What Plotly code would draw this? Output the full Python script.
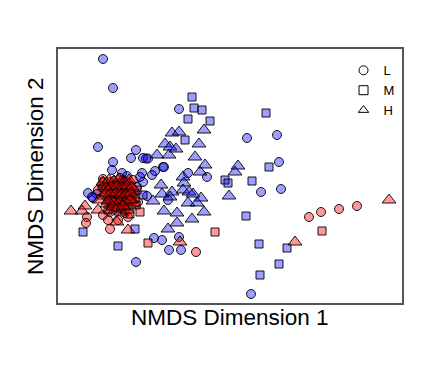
import plotly.graph_objects as go

# NMDS scores (arbitrary units). Group A = blue, group B = red.
# L = circles, M = squares, H = triangles
a_L_x = [103,113,179,98,136,131,143,146,148,113,163,155,164,142,143,122,112,188,207,168,179,154,162,169,181,136,247,277,279,261,281,251,93,97,88,92,137,140,152,147,127,123]
a_L_y = [59,88,109,147,150,158,158,158.5,158.5,162,167,171,167,173,182,173,170,173,177,200,237,238,240,250,250,262,138,135,162,192,189,294,198,194,193,197,187,177,175,196,176,180]

a_M_x = [192,194,202,188,210,185,143,135,83,118,225,228,266,269,252,246,259,287,279,260]
a_M_y = [97,108,110,119,121,140,195,229,232,246,180,183,113,167,181,216,244,248,264,275]

a_H_x = [172,179,204,199,165,170,176,169,195,157,205,200,183,161,184,172,162,170,153,183,189,193,201,188,197,164,177,204,192,177,168,235,238,229]
a_H_y = [133,132,130,144,144,147,149,155,157,155,165,172,177,185,183,192,194,197,201,190,192,194,198,203,203,211,213,212,219,223,229,172,166,196]

b_L_x = [103,114,120,138,108,118,128,87,86,103,110,196,309,321,339,357,98,133,110,125]
b_L_y = [179,181,178,202,220,220,217,217,223,215,229,252,217,212,209,206,190,180,212,213]

b_M_x = [102,107,114,126,132,136,140,120,108,130,137,125,132,215,148,322,104,111,118,124,129,135,113,121,127,110,116,122]
b_M_y = [186,194,188,182,195,205,212,202,210,214,190,202,197,232,243,231,182,186,184,189,186,198,200,192,196,203,207,209]

b_H_x = [105,110,115,120,125,130,108,113,118,123,128,133,104,110,116,121,126,131,107,112,118,124,129,134,115,121,127,112,119,99,
         103,109,114,119,124,129,106,111,117,122,127,132,105,110,116,121,126,131,108,114,120,125,130,113,118,123,
         71,85,82,98,117,128,180,295,389]
b_H_y = [185,183,186,184,187,185,190,192,190,193,191,189,196,198,197,199,197,200,204,206,204,207,205,203,210,212,210,200,195,200,
         182,180,181,179,182,180,188,187,186,188,186,187,193,194,193,195,194,193,201,202,201,202,200,207,208,206,
         211,206,211,210,222,230,242,242,200]

legend_labels = ["L", "M", "H"]

BLUE = "rgba(0,0,255,0.38)"
RED = "rgba(255,0,0,0.40)"
EDGE = dict(color="black", width=0.9)

fig = go.Figure()

def add(xs, ys, color, symbol, size):
    fig.add_trace(go.Scatter(x=xs, y=ys, mode="markers", showlegend=False,
                             marker=dict(symbol=symbol, size=size, color=color, line=EDGE)))

add(a_L_x, a_L_y, BLUE, "circle", 9)
add(a_M_x, a_M_y, BLUE, "square", 8)
add(a_H_x, a_H_y, BLUE, "triangle-up", 12)
add(b_L_x, b_L_y, RED, "circle", 9)
add(b_M_x, b_M_y, RED, "square", 8)
add(b_H_x, b_H_y, RED, "triangle-up", 12)

for lab, sym in zip(legend_labels, ["circle-open", "square-open", "triangle-up-open"]):
    fig.add_trace(go.Scatter(x=[None], y=[None], mode="markers", name=lab,
                             marker=dict(symbol=sym, size=9, color="black", line=dict(width=1))))

axis_common = dict(showgrid=False, zeroline=False, showticklabels=False, ticks="",
                   showline=True, linecolor="#555555", linewidth=1.5, mirror=True)

# page body has an 8px default margin, so the figure is sized/placed to compensate
fig.update_layout(
    width=424, height=357,
    margin=dict(l=50, r=30, t=41, b=62),
    paper_bgcolor="white", plot_bgcolor="white",
    font=dict(family="Liberation Sans, Arial, sans-serif", color="black"),
    xaxis=dict(range=[58, 402], **axis_common),
    yaxis=dict(range=[303, 49], **axis_common),
    legend=dict(x=0.83, y=0.975, xanchor="left", yanchor="top",
                font=dict(size=13), bgcolor="rgba(0,0,0,0)", tracegroupgap=0),
    annotations=[
        dict(text="NMDS Dimension 1", xref="paper", yref="paper", x=0.5, y=-0.059,
             xanchor="center", yanchor="middle", showarrow=False, font=dict(size=22.5)),
        dict(text="NMDS Dimension 2", xref="paper", yref="paper", x=-0.067, y=0.5,
             xanchor="center", yanchor="middle", showarrow=False, textangle=-90,
             font=dict(size=22.5)),
    ],
)

fig.write_html("out.html")
